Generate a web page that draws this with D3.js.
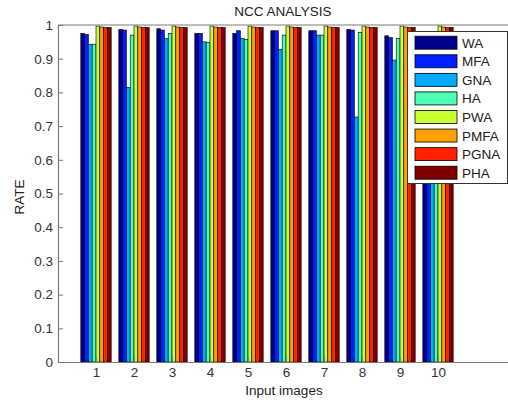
<!DOCTYPE html>
<html><head><meta charset="utf-8">
<script src="https://cdn.jsdelivr.net/npm/d3@7"></script>
<style>html,body{margin:0;padding:0;background:#fff;overflow:hidden}</style>
</head><body>
<svg id="c" width="508" height="402"></svg>
<script>
const categories = [1, 2, 3, 4, 5, 6, 7, 8, 9, 10];
const seriesNames = ["WA", "MFA", "GNA", "HA", "PWA", "PMFA", "PGNA", "PHA"];
const WA   = [0.975, 0.987, 0.989, 0.975, 0.975, 0.983, 0.983, 0.987, 0.968, 0.980];
const MFA  = [0.972, 0.985, 0.985, 0.975, 0.983, 0.983, 0.983, 0.985, 0.963, 0.980];
const GNA  = [0.943, 0.815, 0.960, 0.950, 0.960, 0.927, 0.970, 0.727, 0.896, 0.960];
const HA   = [0.943, 0.970, 0.975, 0.948, 0.957, 0.970, 0.970, 0.978, 0.960, 0.970];
const PWA  = [0.997, 0.997, 0.997, 0.997, 0.997, 0.997, 0.997, 0.997, 0.997, 0.997];
const PMFA = [0.994, 0.994, 0.994, 0.994, 0.994, 0.994, 0.994, 0.994, 0.994, 0.994];
const PGNA = [0.993, 0.993, 0.993, 0.993, 0.993, 0.993, 0.993, 0.993, 0.993, 0.993];
const PHA  = [0.993, 0.993, 0.993, 0.993, 0.993, 0.993, 0.993, 0.993, 0.993, 0.993];
const yTicks = [0, 0.1, 0.2, 0.3, 0.4, 0.5, 0.6, 0.7, 0.8, 0.9, 1];
const yTickLabels = ["0", "0.1", "0.2", "0.3", "0.4", "0.5", "0.6", "0.7", "0.8", "0.9", "1"];
const colors = ["#00008c", "#0020ff", "#00aaff", "#4cffb4", "#c8ff32", "#ff9f00", "#ff2200", "#800000"];
const series = [WA, MFA, GNA, HA, PWA, PMFA, PGNA, PHA];

const svg = d3.select("#c");
const L = 58, T = 25, B = 362, R = 514;
const x = d3.scaleLinear().domain([0, 12]).range([L, R]);
const y = d3.scaleLinear().domain([0, 1]).range([B, T]);
const font = "Liberation Sans, Arial, sans-serif";
const fs = 13.5;
const bw = 0.1;

// bars
series.forEach((vals, j) => {
  svg.append("g").selectAll("rect").data(categories).enter().append("rect")
    .attr("x", (c) => x(c + (j - 4) * bw))
    .attr("width", x(bw) - x(0))
    .attr("y", (c, i) => y(vals[i]))
    .attr("height", (c, i) => y(0) - y(vals[i]))
    .attr("fill", colors[j])
    .attr("stroke", "#000")
    .attr("stroke-width", 0.6);
});

// axes frame
const axCol = "#7a7a7a";
svg.append("g").attr("transform", `translate(${L},0)`)
  .call(d3.axisLeft(y).tickValues(yTicks).tickFormat((d, i) => yTickLabels[i]).tickSize(-5).tickPadding(5))
  .call(g => { g.select(".domain").attr("stroke", axCol).attr("stroke-width", 1.2); g.selectAll("line").attr("stroke", axCol);
    g.selectAll("text").attr("font-family", font).attr("font-size", fs).attr("fill", "#333"); });
svg.append("g").attr("transform", `translate(${R},0)`)
  .call(d3.axisRight(y).tickValues(yTicks).tickFormat("").tickSize(-5))
  .call(g => { g.select(".domain").attr("stroke", axCol).attr("stroke-width", 1.2); g.selectAll("line").attr("stroke", axCol); });
svg.append("g").attr("transform", `translate(0,${B})`)
  .call(d3.axisBottom(x).tickValues(categories).tickSize(-5).tickPadding(5).tickSizeOuter(0))
  .call(g => { g.select(".domain").attr("stroke", axCol).attr("stroke-width", 1.2); g.selectAll("line").attr("stroke", axCol);
    g.selectAll("text").attr("font-family", font).attr("font-size", fs).attr("fill", "#333"); });
svg.append("line").attr("x1", L).attr("x2", R).attr("y1", T).attr("y2", T).attr("stroke", axCol).attr("stroke-width", 1.2);

// title and labels
svg.append("text").attr("x", 283).attr("y", 16).attr("text-anchor", "middle")
  .attr("font-family", font).attr("font-size", fs).attr("fill", "#222").text("NCC ANALYSIS");
svg.append("text").attr("x", 284).attr("y", 395).attr("text-anchor", "middle")
  .attr("font-family", font).attr("font-size", fs).attr("fill", "#222").text("Input images");
svg.append("text").attr("transform", "translate(24,197) rotate(-90)").attr("text-anchor", "middle")
  .attr("font-family", font).attr("font-size", fs).attr("fill", "#222").text("RATE");

// legend
const lg = svg.append("g");
lg.append("rect").attr("x", 407.5).attr("y", 31.5).attr("width", 100).attr("height", 152)
  .attr("fill", "#fff").attr("stroke", "#333").attr("stroke-width", 1);
seriesNames.forEach((n, j) => {
  const cy = 42.7 + j * 18.57;
  lg.append("rect").attr("x", 415).attr("y", cy - 6.5).attr("width", 42).attr("height", 13)
    .attr("fill", colors[j]).attr("stroke", "#000").attr("stroke-width", 0.8);
  lg.append("text").attr("x", 462).attr("y", cy + 5).attr("font-family", font).attr("font-size", fs)
    .attr("fill", "#222").text(n);
});
</script>
</body></html>
